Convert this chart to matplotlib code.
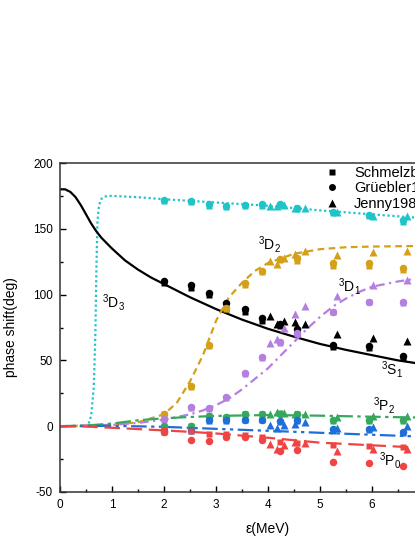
import numpy as np
import matplotlib
matplotlib.use("Agg")
import matplotlib.pyplot as plt
from matplotlib.lines import Line2D
from matplotlib.ticker import MultipleLocator

plt.rcParams["font.family"] = ["Liberation Sans", "DejaVu Sans"]
plt.rcParams["axes.unicode_minus"] = False

# --- fitted curves ---
s1_x = [0, 0.1, 0.2, 0.3, 0.4, 0.5, 0.6, 0.7, 0.8, 1.0, 1.25, 1.5, 1.75, 2.0,
        2.5, 3.0, 3.5, 4.0, 4.5, 5.0, 5.5, 6.0, 6.5, 7.0, 8.0]
s1_y = [180, 180, 178, 174, 168, 161, 154, 148, 143, 135, 126, 119, 113, 108,
        98, 89, 81, 74, 68, 62.5, 58, 54, 50, 47, 42]

d3_x = [0, 0.4, 0.5, 0.55, 0.6, 0.65, 0.68, 0.7, 0.72, 0.75, 0.8, 0.9, 1.0,
        1.5, 2.0, 3.0, 4.0, 5.0, 6.0, 7.0, 8.0]
d3_y = [0, 0, 0.5, 2, 8, 30, 70, 120, 155, 168, 173, 175, 175,
        174, 172.5, 170, 167.5, 164, 161, 158, 155]

d2_x = [0, 1.0, 1.5, 2.0, 2.25, 2.5, 2.75, 3.0, 3.25, 3.5, 3.75, 4.0, 4.5,
        5.0, 5.5, 6.0, 7.0, 8.0]
d2_y = [0, 1, 3, 9, 18, 34, 54, 80, 98, 109, 118, 124, 131,
        134.5, 136, 136.5, 137, 137]

d1_x = [0, 1.0, 1.5, 2.0, 2.5, 2.75, 3.0, 3.25, 3.5, 3.75, 4.0, 4.25, 4.5,
        4.75, 5.0, 5.25, 5.5, 5.75, 6.0, 6.5, 7.0, 8.0]
d1_y = [0, 1, 2.5, 5, 9, 12, 16, 21, 28, 36, 44, 54, 64,
        74, 83, 91, 97, 102, 106, 110, 113, 117]

p2_x = [0, 0.5, 1.0, 1.5, 2.0, 2.5, 3.0, 4.0, 5.0, 6.0, 7.0, 8.0]
p2_y = [0, 0.5, 2, 4.5, 6, 7, 7.8, 8.5, 8, 7.2, 6.5, 6]

p1_x = [0, 1.0, 2.0, 3.0, 4.0, 5.0, 6.0, 7.0, 8.0]
p1_y = [0, 0.3, -0.5, -2, -3.5, -5, -6.5, -8, -9.5]

p0_x = [0, 0.5, 1.0, 1.5, 2.0, 2.5, 3.0, 4.0, 5.0, 6.0, 7.0, 8.0]
p0_y = [0, -0.3, -1.2, -2.2, -3.2, -4.3, -5.5, -8.8, -12.5, -14.5, -16.5, -18]

# --- data points: squares (Schmelzbach), circles (Grüebler), triangles (Jenny) ---
e_sq = [2.0, 2.51, 2.87, 3.2, 3.55, 3.88, 4.24, 4.56, 5.25, 5.94, 6.6]
e_ci = [2.0, 2.51, 2.87, 3.2, 3.55, 3.88, 4.24, 4.56, 5.25, 5.94, 6.6]
e_tr = [4.04, 4.18, 4.3, 4.52, 4.71, 5.33, 6.02, 6.68]

d3_sq = [171.5, 170, 167.5, 166.5, 167, 167, 168, 165, 162, 159.5, 155.5]
d3_ci = [172, 171, 168.5, 167.5, 168, 169, 168.5, 166, 163, 160.5, 157]
d3_tr = [167, 167.5, 168, 166, 166, 163, 160, 160]

s1_sq = [108.5, 105, 100, 89, 87, 80, 76, 70.5, 60.5, 59.5, 51.5]
s1_ci = [110.5, 107, 101.5, 93.5, 89, 82, 78, 74, 62, 61, 53.5]
s1_tr = [83.5, 78, 80, 79, 77.5, 70, 67, 65]

d2_sq = [9, 30, 61, 89, 107, 117, 126, 125.5, 122, 121.5, 118.5]
d2_ci = [9, 30.5, 61.5, 90, 108.5, 118, 127, 127.5, 124, 124, 120]
d2_tr = [125.5, 123, 128, 130.5, 133, 130, 132, 133]

d1_sq = [5, 14, 13, 21.5, 40, 52, 63.5, 70, 86.5, 94, 93.5]
d1_ci = [5.5, 14.5, 13.5, 22, 40.5, 52.5, 64, 70.5, 87, 94.5, 94]
d1_tr = [63, 66.5, 75, 85, 91, 99, 107, 111]

p2_sq = [-0.5, 0, 7.8, 6.6, 9, 9, 10, 9, 4, 4, 4]
p2_ci = [0.5, 0.5, 8, 7, 9.5, 9.5, 9, 9.5, 4.5, 4.5, 4.5]
p2_tr = [9, 11, 10, 9, 9, 7, 7.5, 7.8]

p1_sq = [-4.5, -4, 4, 4, 4.5, 4.5, 3.3, 4, -3.5, -2.8, -5.3]
p1_ci = [-3.5, -3, 4.5, 4.5, 5, 5, 4, 4.5, -2.5, -2, -4.5]
p1_tr = [0.8, -1, 1, 2, 3.3, -1.7, -0.7, -0.2]

p0_sq = [-3, -4, -6, -6, -7, -8, -12, -13, -14, -15, -16]
p0_ci = [-4.5, -10.5, -11, -8, -8.5, -10.5, -18.5, -18, -27, -28, -30.5]
p0_tr = [-13.5, -17, -14, -12, -12.5, -19, -17, -17]

x_ticks = [0, 1, 2, 3, 4, 5, 6, 7, 8]
x_tick_labels = ["0", "1", "2", "3", "4", "5", "6", "", ""]

waves = [
    ("#1fc4c8", (0, (1, 1.2)), d3_x, d3_y, d3_sq, d3_ci, d3_tr),
    ("black", "-", s1_x, s1_y, s1_sq, s1_ci, s1_tr),
    ("#d4a017", (0, (3, 2)), d2_x, d2_y, d2_sq, d2_ci, d2_tr),
    ("#b57fe0", (0, (4, 2, 1, 2)), d1_x, d1_y, d1_sq, d1_ci, d1_tr),
    ("#36a85e", (0, (7, 2, 1.5, 2)), p2_x, p2_y, p2_sq, p2_ci, p2_tr),
    ("#1f6fd8", (0, (7, 2, 1.5, 2, 1.5, 2)), p1_x, p1_y, p1_sq, p1_ci, p1_tr),
    ("#f04444", (0, (7, 3)), p0_x, p0_y, p0_sq, p0_ci, p0_tr),
]

fig = plt.figure(figsize=(4.15, 5.37), dpi=100)
ax = fig.add_axes([60 / 415, 45 / 537, 416 / 415, 329 / 537])

for col, ls, cx, cy, sq, ci, tr in waves:
    ax.plot(cx, cy, color=col, ls=ls, lw=1.6, zorder=2)
    ax.plot(e_sq, sq, "s", color=col, ms=5.0, mec="none", zorder=3)
    ax.plot(e_ci, ci, "o", color=col, ms=5.4, mec="none", zorder=3)
    ax.plot(e_tr, tr, "^", color=col, ms=6.0, mec="none", zorder=3)

lab = dict(fontsize=10, va="center", ha="left")
ax.text(0.80, 94, "$\\mathregular{^3D_3}$", **lab)
ax.text(3.80, 138, "$\\mathregular{^3D_2}$", **lab)
ax.text(5.34, 106, "$\\mathregular{^3D_1}$", **lab)
ax.text(6.18, 43, "$\\mathregular{^3S_1}$", **lab)
ax.text(6.02, 16, "$\\mathregular{^3P_2}$", **lab)
ax.text(6.14, -26, "$\\mathregular{^3P_0}$", **lab)

ax.set_xlim(0, 8)
ax.set_ylim(-50, 200)
ax.set_xticks(x_ticks)
ax.set_xticklabels(x_tick_labels)
ax.xaxis.set_minor_locator(MultipleLocator(0.5))
ax.yaxis.set_major_locator(MultipleLocator(50))
ax.yaxis.set_minor_locator(MultipleLocator(25))
ax.tick_params(which="both", direction="in", labelsize=8.5, width=1.0,
               top=False, right=False, pad=5)
ax.tick_params(which="major", length=4.5)
ax.tick_params(which="minor", length=2.5)
for sp in ax.spines.values():
    sp.set_linewidth(1.1)
    sp.set_color("#333333")
ax.set_xlabel("ε(MeV)", fontsize=10, labelpad=8)
ax.set_ylabel("phase shift(deg)", fontsize=10, labelpad=11)

handles = [Line2D([], [], ls="none", marker=m, color="black", ms=s, mec="none")
           for m, s in (("s", 4.6), ("o", 5.0), ("^", 5.6))]
fig.legend(handles, ["Schmelzbach1972", "Grüebler1975", "Jenny1983"],
           loc="upper left", bbox_to_anchor=(325 / 415, 1 - 166 / 537),
           frameon=False, fontsize=10.5, handlelength=1.0, handletextpad=1.0,
           borderpad=0, borderaxespad=0, labelspacing=0.1)

fig.savefig("out.png", dpi=100)
